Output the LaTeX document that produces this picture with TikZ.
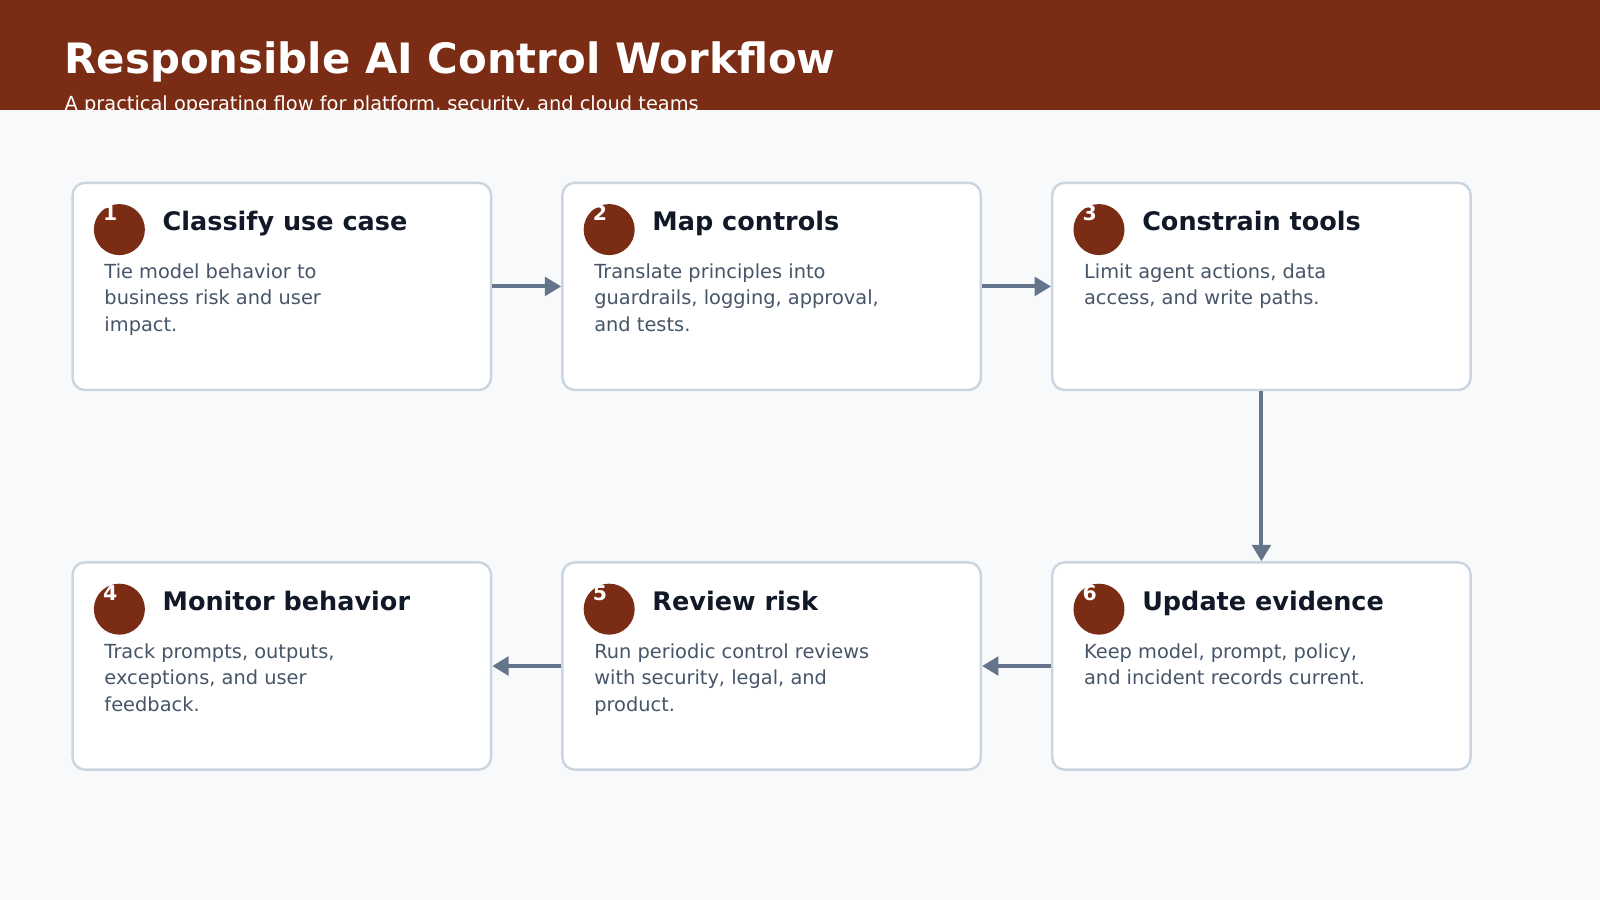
\documentclass[tikz,border=0pt]{standalone}
\usepackage{fontspec}
\setmainfont{DejaVu Sans}
\usetikzlibrary{arrows.meta}
\definecolor{hdr}{HTML}{7B2C14}
\definecolor{bg}{HTML}{F8F9FB}
\definecolor{bord}{HTML}{CBD5E1}
\definecolor{body}{HTML}{475569}
\definecolor{ttl}{HTML}{111827}
\definecolor{arr}{HTML}{64748B}
\tikzset{
 card/.style={draw=bord,line width=1.2pt,fill=white,rounded corners=6pt,minimum width=205pt,minimum height=101.5pt,anchor=north west,inner sep=0pt},
 badge/.style={circle,fill=hdr,minimum size=25pt,inner sep=0pt},
 num/.style={text=white,font=\bfseries\fontsize{10}{12}\selectfont,anchor=center},
 ttlt/.style={text=ttl,font=\bfseries\fontsize{12.5}{15}\selectfont,anchor=base west},
 bodyt/.style={text=body,font=\fontsize{9.5}{13}\selectfont,anchor=north west,align=left,inner sep=0pt},
 flow/.style={draw=arr,line width=2pt,-{Triangle[length=8pt,width=9pt]}}
}
\begin{document}
\begin{tikzpicture}[x=0.5pt,y=-0.5pt]
\useasboundingbox (0,0) rectangle (1568,882);
\fill[bg] (0,0) rectangle (1568,882);
\fill[hdr] (0,0) rectangle (1568,108);
\node[anchor=base west,text=white,font=\bfseries\fontsize{20.5}{24}\selectfont,inner sep=0pt] (title) at (63,72) {Responsible AI Control Workflow};
\node[anchor=base west,text=white,font=\fontsize{9.5}{12}\selectfont,inner sep=0pt] (sub) at (63,108) {A practical operating flow for platform, security, and cloud teams};
\foreach \n/\x/\y/\t/\b in {
 1/70/178/Classify use case/{Tie model behavior to\\business risk and user\\impact.},
 2/550/178/Map controls/{Translate principles into\\guardrails, logging, approval,\\and tests.},
 3/1030/178/Constrain tools/{Limit agent actions, data\\access, and write paths.},
 4/70/550/Monitor behavior/{Track prompts, outputs,\\exceptions, and user\\feedback.},
 5/550/550/Review risk/{Run periodic control reviews\\with security, legal, and\\product.},
 6/1030/550/Update evidence/{Keep model, prompt, policy,\\and incident records current.}}{
 \node[card] (c\n) at (\x,\y) {};
 \node[badge] (b\n) at (\x+47,\y+47) {};
 \node[num] (n\n) at (\x+38,\y+31) {\n};
 \node[ttlt,inner sep=0pt] (t\n) at (\x+89,\y+48) {\t};
 \node[bodyt] (d\n) at (\x+32,\y+80) {\b};
}
\draw[flow] (c1.east) -- (c2.west);
\draw[flow] (c2.east) -- (c3.west);
\draw[flow] (c3.south) -- (c6.north);
\draw[flow] (c6.west) -- (c5.east);
\draw[flow] (c5.west) -- (c4.east);
\end{tikzpicture}
\end{document}
